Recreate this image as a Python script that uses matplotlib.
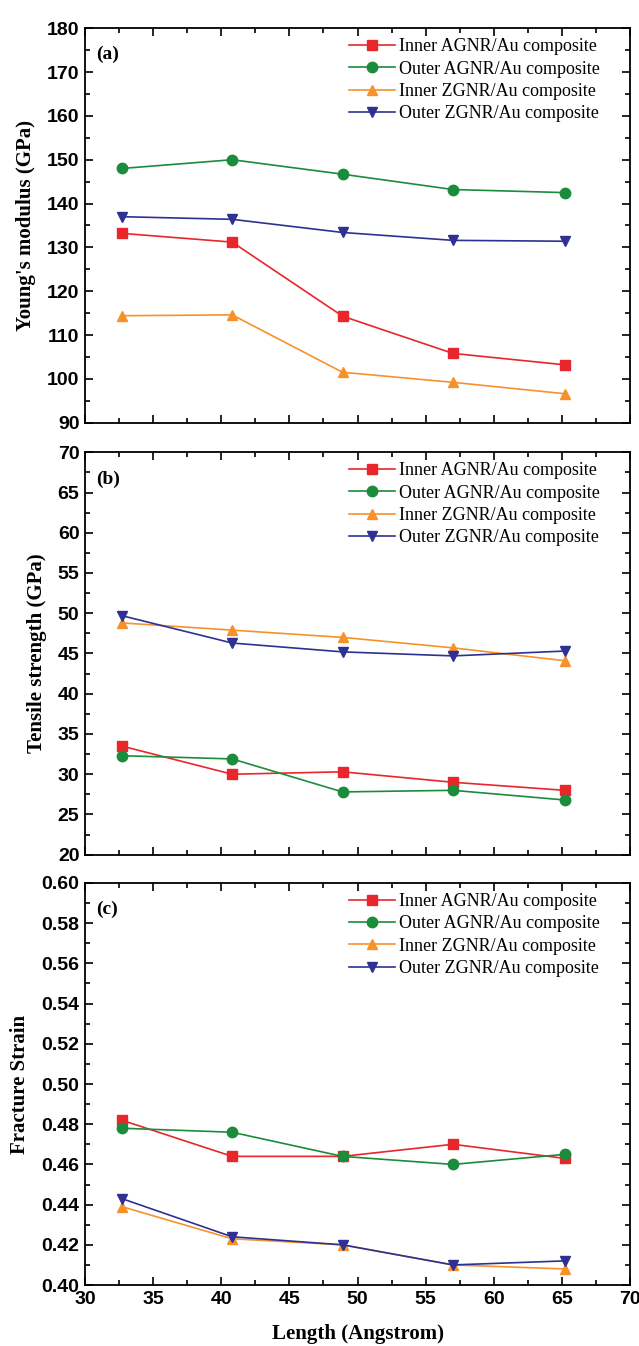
import matplotlib
matplotlib.use("Agg")
import matplotlib.pyplot as plt
from matplotlib.ticker import MultipleLocator, AutoMinorLocator

length = [32.7, 40.8, 48.9, 57.0, 65.2]
series_names = ["Inner AGNR/Au composite", "Outer AGNR/Au composite",
                "Inner ZGNR/Au composite", "Outer ZGNR/Au composite"]

# Panel (a) Young's modulus (GPa)
ym_inner_agnr = [133.2, 131.2, 114.3, 105.8, 103.2]
ym_outer_agnr = [148.0, 150.0, 146.7, 143.2, 142.5]
ym_inner_zgnr = [114.4, 114.6, 101.5, 99.2, 96.6]
ym_outer_zgnr = [137.0, 136.4, 133.4, 131.6, 131.4]

# Panel (b) Tensile strength (GPa)
ts_inner_agnr = [33.5, 30.0, 30.3, 29.0, 28.0]
ts_outer_agnr = [32.3, 31.9, 27.8, 28.0, 26.8]
ts_inner_zgnr = [48.8, 47.9, 47.0, 45.7, 44.1]
ts_outer_zgnr = [49.7, 46.3, 45.2, 44.7, 45.3]

# Panel (c) Fracture strain
fs_inner_agnr = [0.482, 0.464, 0.464, 0.470, 0.463]
fs_outer_agnr = [0.478, 0.476, 0.464, 0.460, 0.465]
fs_inner_zgnr = [0.439, 0.423, 0.420, 0.410, 0.408]
fs_outer_zgnr = [0.443, 0.424, 0.420, 0.410, 0.412]

colors = ["#e8262b", "#1b8c3c", "#f7922a", "#2e3192"]
markers = ["s", "o", "^", "v"]

fig = plt.figure(figsize=(6.39, 13.46), dpi=100)
left, right = 0.133, 0.986
panels = [
    dict(rect=(left, 0.686, right - left, 0.979 - 0.686), data=[ym_inner_agnr, ym_outer_agnr, ym_inner_zgnr, ym_outer_zgnr],
         ylim=(90, 180), major=10, ylabel="Young's modulus (GPa)", tag="(a)", fmt="{:.0f}"),
    dict(rect=(left, 0.365, right - left, 0.664 - 0.365), data=[ts_inner_agnr, ts_outer_agnr, ts_inner_zgnr, ts_outer_zgnr],
         ylim=(20, 70), major=5, ylabel="Tensile strength (GPa)", tag="(b)", fmt="{:.0f}"),
    dict(rect=(left, 0.0453, right - left, 0.344 - 0.0453), data=[fs_inner_agnr, fs_outer_agnr, fs_inner_zgnr, fs_outer_zgnr],
         ylim=(0.40, 0.60), major=0.02, ylabel="Fracture Strain", tag="(c)", fmt="{:.2f}"),
]

tick_font = dict(family="Liberation Sans", weight="bold", size=14)
serif = "Liberation Serif"

for i, p in enumerate(panels):
    ax = fig.add_axes(p["rect"])
    for d, c, m, n in zip(p["data"], colors, markers, series_names):
        ax.plot(length, d, color=c, marker=m, markersize=7.5, linewidth=1.2, label=n)
    ax.set_xlim(30, 70)
    ax.set_ylim(*p["ylim"])
    ax.xaxis.set_major_locator(MultipleLocator(5))
    ax.xaxis.set_minor_locator(AutoMinorLocator(2))
    ax.yaxis.set_major_locator(MultipleLocator(p["major"]))
    ax.yaxis.set_minor_locator(AutoMinorLocator(2))
    ax.tick_params(which="both", direction="in", top=True, right=True, width=1.2)
    ax.tick_params(which="major", length=6, pad=4)
    ax.tick_params(which="minor", length=3.5)
    for s in ax.spines.values():
        s.set_linewidth(1.3)
    yt = ax.get_yticks()
    ax.set_yticks(yt)
    ax.set_yticklabels([p["fmt"].format(v) for v in yt], fontdict=tick_font)
    ax.set_ylim(*p["ylim"])
    if i < 2:
        ax.set_xticklabels([])
    else:
        xt = ax.get_xticks()
        ax.set_xticks(xt)
        ax.set_xticklabels(["{:.0f}".format(v) for v in xt], fontdict=tick_font)
        ax.set_xlim(30, 70)
        ax.set_xlabel("Length (Angstrom)", family=serif, weight="bold", size=15, labelpad=12)
    ax.set_ylabel(p["ylabel"], family=serif, weight="bold", size=15, labelpad=8)
    ax.text(0.02, 0.955, p["tag"], transform=ax.transAxes, family=serif, weight="bold",
            size=14, va="top", ha="left")
    ax.legend(loc="upper right", bbox_to_anchor=(0.963, 1.0), frameon=False,
              prop=dict(family=serif, size=13),
              handlelength=2.6, handletextpad=0.2, labelspacing=0.3, borderaxespad=0.25,
              borderpad=0.3)

fig.savefig("out.png", dpi=100)
